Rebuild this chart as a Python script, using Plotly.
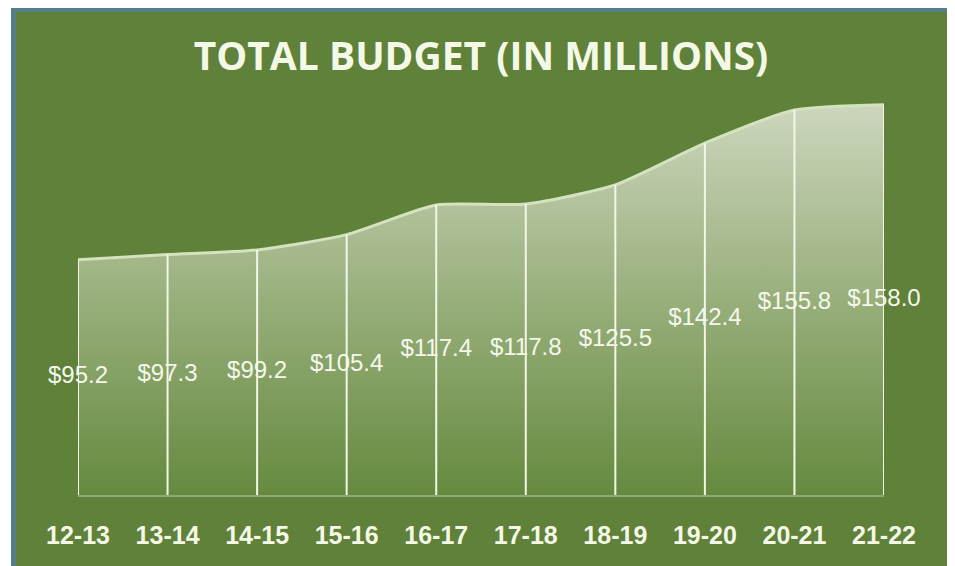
import plotly.graph_objects as go

categories = ["12-13", "13-14", "14-15", "15-16", "16-17", "17-18", "18-19", "19-20", "20-21", "21-22"]
values = [95.2, 97.3, 99.2, 105.4, 117.4, 117.8, 125.5, 142.4, 155.8, 158.0]
labels = ["$%.1f" % v for v in values]

OFF = 8  # default body margin of the page
PW, PH = 955, 566
W, H = PW - OFF, PH - OFF
# plot area in page pixels: x 78..884, y 75..495
L, R, T, B = 78 - OFF, PW - 884, 75 - OFF, PH - 495
pw, ph = W - L - R, H - T - B

def px(x):
    return (x - OFF - L) / pw

def py(y):
    return (H - B - (y - OFF)) / ph

GREEN = "#5f8139"

fig = go.Figure()

# area
fig.add_trace(go.Scatter(
    x=categories, y=values, mode="lines",
    line=dict(color="#d3e3bd", width=3, shape="spline", smoothing=0.6),
    fill="tozeroy",
    fillgradient=dict(type="vertical",
                      colorscale=[[0, "#658a3f"], [0.45, "#93ab75"], [1, "#cdd6bd"]]),
    hoverinfo="skip", showlegend=False,
))

# drop lines
fig.add_trace(go.Scatter(
    x=categories, y=values, mode="markers",
    marker=dict(size=1, color="rgba(0,0,0,0)"),
    error_y=dict(type="data", symmetric=False, array=[0] * len(values),
                 arrayminus=values, color="#f1f6e8", thickness=2, width=0),
    hoverinfo="skip", showlegend=False,
))

# data labels (centered in area)
fig.add_trace(go.Scatter(
    x=categories, y=[v / 2 for v in values], mode="text", text=labels,
    textposition="middle center", cliponaxis=False,
    textfont=dict(family="Liberation Sans, Arial", size=24, color="#f4f8ec"),
    hoverinfo="skip", showlegend=False,
))

shapes = [
    dict(type="rect", xref="paper", yref="paper", x0=px(11), x1=px(PW + 2), y0=py(PH + 2), y1=py(7),
         fillcolor="#567d8a", line=dict(width=0), layer="below"),
    dict(type="rect", xref="paper", yref="paper", x0=px(951), x1=px(PW + 2), y0=py(PH + 2), y1=py(12),
         fillcolor="#8294c4", line=dict(width=0), layer="below"),
    dict(type="rect", xref="paper", yref="paper", x0=px(16), x1=px(951), y0=py(PH + 2), y1=py(12),
         fillcolor=GREEN, line=dict(width=0), layer="below"),
]

fig.update_layout(
    width=W, height=H,
    margin=dict(l=L, r=R, t=T, b=B, pad=0),
    paper_bgcolor="white",
    plot_bgcolor="rgba(0,0,0,0)",
    shapes=shapes,
    title=dict(text="<b>TOTAL BUDGET (IN MILLIONS)</b>", x=px(481), xref="paper",
               y=1 - (56 - OFF) / H, yref="container", yanchor="middle", xanchor="center",
               font=dict(family="Open Sans, Liberation Sans", size=39, color="#f4f8e6")),
    xaxis=dict(range=[0, 9], showgrid=False, zeroline=False, showline=True,
               linecolor="#8fa874", linewidth=1.5,
               ticks="outside", ticklen=17, tickcolor="rgba(0,0,0,0)",
               tickfont=dict(family="Liberation Sans, Arial", size=25,
                             color="#f4f8e6", weight="bold"),
               fixedrange=True),
    yaxis=dict(range=[0, 170], visible=False, fixedrange=True),
    showlegend=False,
)

fig.write_html("out.html")
